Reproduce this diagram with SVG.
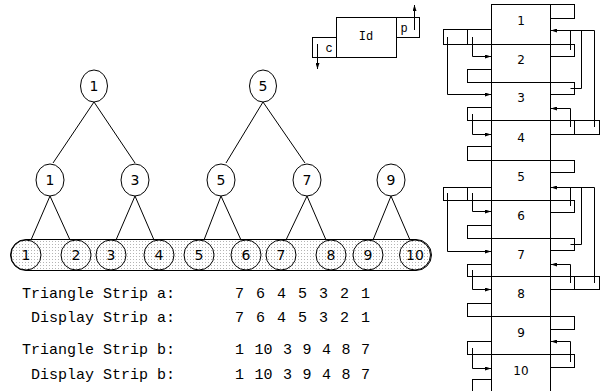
<svg xmlns="http://www.w3.org/2000/svg" width="605" height="391" viewBox="0 0 605 391">
  <defs>
    <pattern id="dots" width="3" height="3" patternUnits="userSpaceOnUse">
      <rect width="3" height="3" fill="#fff"/>
      <rect x="1" y="1" width="1" height="1" fill="#b4b4b4"/>
    </pattern>
    <marker id="ah" viewBox="0 0 6 4" refX="6" refY="2" markerWidth="6" markerHeight="4" markerUnits="userSpaceOnUse" orient="auto">
      <path d="M0,0 L6,2 L0,4 Z" fill="#000"/>
    </marker>
  </defs>
  <style>
    .ln { fill: none; stroke: #000; stroke-width: 1; }
    .nd { fill: #fff; stroke: #000; stroke-width: 1; }
    .nb { fill: none; stroke: #000; stroke-width: 1; }
    .box { fill: #fff; stroke: #000; stroke-width: 1; }
    .tab { fill: none; stroke: #000; stroke-width: 1; }
    .lbl { font-family: "DejaVu Sans", sans-serif; font-size: 14px; text-anchor: middle; fill: #000; }
    .blbl { font-family: "DejaVu Sans", sans-serif; font-size: 12px; text-anchor: middle; fill: #000; }
    .mono { font-family: "Liberation Mono", "Courier New", monospace; font-size: 15px; fill: #000; }
    .key { font-family: "Liberation Mono", "Courier New", monospace; font-size: 12px; fill: #000; }
    .ptr { fill: none; stroke: #000; stroke-width: 1; marker-end: url(#ah); }
  </style>

  <!-- strip band behind the leaf vertices -->
  <rect id="strip" x="10.5" y="239.5" width="421" height="31" rx="15.5" ry="15.5" fill="url(#dots)" stroke="#000"/>

  <!-- tree edges -->
  <g id="edges">
    <line class="ln" x1="94" y1="102" x2="53" y2="163"/>
    <line class="ln" x1="94" y1="102" x2="135" y2="163"/>
    <line class="ln" x1="263" y1="102" x2="226" y2="163"/>
    <line class="ln" x1="263" y1="102" x2="305" y2="163"/>
    <line class="ln" x1="50" y1="196" x2="31" y2="240"/>
    <line class="ln" x1="50" y1="196" x2="70" y2="240"/>
    <line class="ln" x1="135" y1="196" x2="116" y2="240"/>
    <line class="ln" x1="135" y1="196" x2="154" y2="240"/>
    <line class="ln" x1="221" y1="196" x2="204" y2="240"/>
    <line class="ln" x1="221" y1="196" x2="241" y2="240"/>
    <line class="ln" x1="307" y1="196" x2="286" y2="240"/>
    <line class="ln" x1="307" y1="196" x2="326" y2="240"/>
    <line class="ln" x1="391" y1="196" x2="373" y2="240"/>
    <line class="ln" x1="391" y1="196" x2="410" y2="240"/>
  </g>

  <!-- upper tree vertices -->
  <g id="t1"><ellipse class="nd" cx="94" cy="86" rx="13.5" ry="16"/><text class="lbl" x="94" y="91">1</text></g>
  <g id="t5"><ellipse class="nd" cx="263" cy="86" rx="13.5" ry="16"/><text class="lbl" x="263" y="91">5</text></g>
  <g id="m1"><ellipse class="nd" cx="50" cy="180" rx="14" ry="16"/><text class="lbl" x="50" y="185">1</text></g>
  <g id="m3"><ellipse class="nd" cx="135" cy="180" rx="14" ry="16"/><text class="lbl" x="135" y="185">3</text></g>
  <g id="m5"><ellipse class="nd" cx="221" cy="180" rx="14" ry="16"/><text class="lbl" x="221" y="185">5</text></g>
  <g id="m7"><ellipse class="nd" cx="307" cy="180" rx="14" ry="16"/><text class="lbl" x="307" y="185">7</text></g>
  <g id="m9"><ellipse class="nd" cx="391" cy="180" rx="14" ry="16"/><text class="lbl" x="391" y="185">9</text></g>

  <!-- leaf vertices on the strip -->
  <g id="v1"><ellipse class="nb" cx="26" cy="255" rx="15" ry="15"/><text class="lbl" x="26" y="260">1</text></g>
  <g id="v2"><ellipse class="nb" cx="76" cy="255" rx="15" ry="15"/><text class="lbl" x="76" y="260">2</text></g>
  <g id="v3"><ellipse class="nb" cx="111" cy="255" rx="15" ry="15"/><text class="lbl" x="111" y="260">3</text></g>
  <g id="v4"><ellipse class="nb" cx="159" cy="255" rx="15" ry="15"/><text class="lbl" x="159" y="260">4</text></g>
  <g id="v5"><ellipse class="nb" cx="199" cy="255" rx="15" ry="15"/><text class="lbl" x="199" y="260">5</text></g>
  <g id="v6"><ellipse class="nb" cx="246" cy="255" rx="15" ry="15"/><text class="lbl" x="246" y="260">6</text></g>
  <g id="v7"><ellipse class="nb" cx="281" cy="255" rx="15" ry="15"/><text class="lbl" x="281" y="260">7</text></g>
  <g id="v8"><ellipse class="nb" cx="331" cy="255" rx="15" ry="15"/><text class="lbl" x="331" y="260">8</text></g>
  <g id="v9"><ellipse class="nb" cx="368" cy="255" rx="15" ry="15"/><text class="lbl" x="368" y="260">9</text></g>
  <g id="v10"><ellipse class="nb" cx="415" cy="255" rx="15.5" ry="15"/><text class="lbl" x="415" y="260">10</text></g>

  <!-- strip listings -->
  <g id="listing">
    <text class="mono" x="175" y="298" text-anchor="end">Triangle Strip a:</text>
    <text class="mono" x="235" y="298" word-spacing="3">7 6 4 5 3 2 1</text>
    <text class="mono" x="175" y="322" text-anchor="end">Display Strip a:</text>
    <text class="mono" x="235" y="322" word-spacing="3">7 6 4 5 3 2 1</text>
    <text class="mono" x="175" y="354" text-anchor="end">Triangle Strip b:</text>
    <text class="mono" x="235" y="354" word-spacing="1.5">1 10 3 9 4 8 7</text>
    <text class="mono" x="175" y="379" text-anchor="end">Display Strip b:</text>
    <text class="mono" x="235" y="379" word-spacing="1.5">1 10 3 9 4 8 7</text>
  </g>

  <!-- record key: id with parent and child slots -->
  <g id="key">
    <rect class="box" x="336.5" y="17.5" width="60" height="40"/>
    <rect class="tab" x="396.5" y="17.5" width="23" height="20"/>
    <rect class="tab" x="312.5" y="37.5" width="24" height="20"/>
    <text class="key" x="366" y="40" text-anchor="middle">Id</text>
    <text class="key" x="404" y="32" text-anchor="middle">p</text>
    <text class="key" x="329" y="52" text-anchor="middle">c</text>
    <line class="ptr" x1="414.5" y1="30" x2="414.5" y2="5"/>
    <line class="ptr" x1="317.5" y1="44" x2="317.5" y2="69"/>
  </g>

  <!-- record column -->
  <g id="r1"><rect class="box" x="491.5" y="4.5" width="59" height="40"/><rect class="tab" x="550.5" y="4.5" width="24" height="14"/><rect class="tab" x="443.5" y="29.5" width="48" height="15"/><line class="ln" x1="467.5" y1="29.5" x2="467.5" y2="44.5"/><text class="blbl" x="521" y="25">1</text></g>
  <g id="r2"><rect class="box" x="491.5" y="44.5" width="59" height="38"/><rect class="tab" x="550.5" y="44.5" width="24" height="12"/><rect class="tab" x="467.5" y="69.5" width="24" height="13"/><text class="blbl" x="521" y="64">2</text></g>
  <g id="r3"><rect class="box" x="491.5" y="82.5" width="59" height="38"/><rect class="tab" x="550.5" y="82.5" width="24" height="12"/><rect class="tab" x="467.5" y="107.5" width="24" height="13"/><text class="blbl" x="521" y="102">3</text></g>
  <g id="r4"><rect class="box" x="491.5" y="120.5" width="59" height="40"/><rect class="tab" x="550.5" y="120.5" width="49" height="14"/><line class="ln" x1="574.5" y1="120.5" x2="574.5" y2="134.5"/><rect class="tab" x="467.5" y="146.5" width="24" height="14"/><text class="blbl" x="521" y="142">4</text></g>
  <g id="r5"><rect class="box" x="491.5" y="160.5" width="59" height="40"/><rect class="tab" x="550.5" y="160.5" width="24" height="12"/><rect class="tab" x="443.5" y="187.5" width="48" height="13"/><line class="ln" x1="467.5" y1="187.5" x2="467.5" y2="200.5"/><text class="blbl" x="521" y="181">5</text></g>
  <g id="r6"><rect class="box" x="491.5" y="200.5" width="59" height="38"/><rect class="tab" x="550.5" y="200.5" width="24" height="12"/><rect class="tab" x="467.5" y="225.5" width="24" height="13"/><text class="blbl" x="521" y="220">6</text></g>
  <g id="r7"><rect class="box" x="491.5" y="238.5" width="59" height="38"/><rect class="tab" x="550.5" y="238.5" width="24" height="12"/><rect class="tab" x="467.5" y="264.5" width="24" height="12"/><text class="blbl" x="521" y="259">7</text></g>
  <g id="r8"><rect class="box" x="491.5" y="276.5" width="59" height="40"/><rect class="tab" x="550.5" y="276.5" width="49" height="13"/><line class="ln" x1="574.5" y1="276.5" x2="574.5" y2="289.5"/><rect class="tab" x="467.5" y="303.5" width="24" height="13"/><text class="blbl" x="521" y="298">8</text></g>
  <g id="r9"><rect class="box" x="491.5" y="316.5" width="59" height="38"/><rect class="tab" x="550.5" y="316.5" width="24" height="13"/><rect class="tab" x="467.5" y="341.5" width="24" height="13"/><text class="blbl" x="521" y="337">9</text></g>
  <g id="r10"><rect class="box" x="491.5" y="354.5" width="59" height="50"/><rect class="tab" x="550.5" y="354.5" width="24" height="13"/><rect class="tab" x="472.5" y="379.5" width="19" height="20"/><text class="blbl" x="521" y="375">10</text></g>

  <!-- child and parent pointers -->
  <g id="pointers">
    <polyline class="ptr" points="472.5,37 472.5,56.5 491,56.5"/>
    <polyline class="ptr" points="447.5,37 447.5,94.5 491,94.5"/>
    <polyline class="ptr" points="472.5,114 472.5,134.5 491,134.5"/>
    <polyline class="ptr" points="472.5,193 472.5,211.5 491,211.5"/>
    <polyline class="ptr" points="447.5,193 447.5,251.5 491,251.5"/>
    <polyline class="ptr" points="472.5,270 472.5,289.5 491,289.5"/>
    <polyline class="ptr" points="472.5,348 472.5,368.5 491,368.5"/>

    <polyline class="ln" points="570.5,50 570.5,30.5"/>
    <polyline class="ln" points="570.5,88.5 581.5,88.5 581.5,30.5"/>
    <polyline class="ptr" points="594.5,127 594.5,30.5 551,30.5"/>
    <polyline class="ptr" points="570.5,127 570.5,108.5 551,108.5"/>

    <polyline class="ln" points="570.5,206 570.5,187.5"/>
    <polyline class="ln" points="570.5,244.5 581.5,244.5 581.5,187.5"/>
    <polyline class="ptr" points="594.5,283 594.5,187.5 551,187.5"/>
    <polyline class="ptr" points="570.5,283 570.5,264.5 551,264.5"/>
    <polyline class="ptr" points="570.5,362 570.5,341.5 551,341.5"/>
  </g>
</svg>
